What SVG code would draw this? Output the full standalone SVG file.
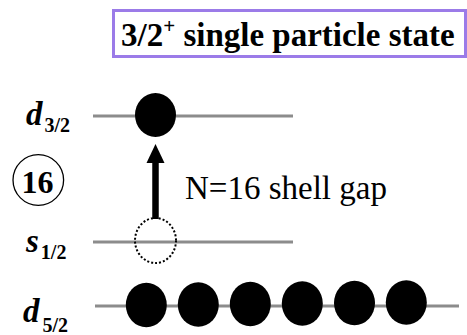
<svg xmlns="http://www.w3.org/2000/svg" width="467" height="335" viewBox="0 0 467 335">
<style>
.lvl{stroke:#8c8c8c;stroke-width:3;fill:none}
.p{fill:#000}
.hole{fill:none;stroke:#000;stroke-width:2;stroke-dasharray:2 2}
text{font-family:'Liberation Serif','DejaVu Serif',serif;fill:#000}
.lab{font-weight:bold;font-style:italic;font-size:33px}
.sub{font-style:normal;font-size:20px}
.ttl{font-weight:bold;font-size:33px}
.gap{font-size:33px}
.num{font-weight:bold;font-size:32px}
</style>
<rect width="467" height="335" fill="#fff"/>
<g id="title">
<rect x="113.5" y="10.5" width="352" height="46" fill="#fff" stroke="#9b7be8" stroke-width="3"/>
<text class="ttl" x="121" y="46">3/2<tspan font-size="21" dy="-13">+</tspan><tspan dy="13"> single particle state</tspan></text>
</g>
<g id="levels">
<line class="lvl" x1="93" y1="116" x2="293" y2="116"/>
<line class="lvl" x1="93" y1="242" x2="293" y2="242"/>
<line class="lvl" x1="95" y1="306" x2="459" y2="306"/>
</g>
<g id="label-d32"><text class="lab" x="26" y="125">d<tspan class="sub" dx="2" dy="7">3/2</tspan></text></g>
<g id="label-s12"><text class="lab" x="26" y="251.5">s<tspan class="sub" dx="2" dy="7">1/2</tspan></text></g>
<g id="label-d52"><text class="lab" x="23" y="322">d<tspan class="sub" dx="3" dy="10">5/2</tspan></text></g>
<g id="label-16">
<circle cx="38.3" cy="180" r="25.3" fill="none" stroke="#000" stroke-width="1.3"/>
<text class="num" x="37.5" y="192.5" text-anchor="middle">16</text>
</g>
<g id="particle-d32"><ellipse class="p" cx="155.5" cy="115" rx="20.5" ry="22"/></g>
<g id="hole-s12"><ellipse class="hole" cx="155.5" cy="240.5" rx="20.5" ry="22.5"/></g>
<g id="particles-d52">
<ellipse class="p" cx="146.3" cy="305" rx="20.5" ry="22.3"/>
<ellipse class="p" cx="198.3" cy="304.5" rx="20.5" ry="22.3"/>
<ellipse class="p" cx="250.3" cy="304" rx="20.5" ry="22.3"/>
<ellipse class="p" cx="302.3" cy="303.5" rx="20.5" ry="22.3"/>
<ellipse class="p" cx="354.5" cy="303" rx="20.5" ry="22.3"/>
<ellipse class="p" cx="406.3" cy="302.5" rx="20.5" ry="22.3"/>
</g>
<g id="connectors">
<line x1="155.5" y1="219" x2="155.5" y2="160" stroke="#000" stroke-width="6.5"/>
<polygon points="146.5,163 164.5,163 155.5,144" fill="#000"/>
</g>
<g id="gap-label"><text class="gap" x="185" y="199">N=16 shell gap</text></g>
</svg>
